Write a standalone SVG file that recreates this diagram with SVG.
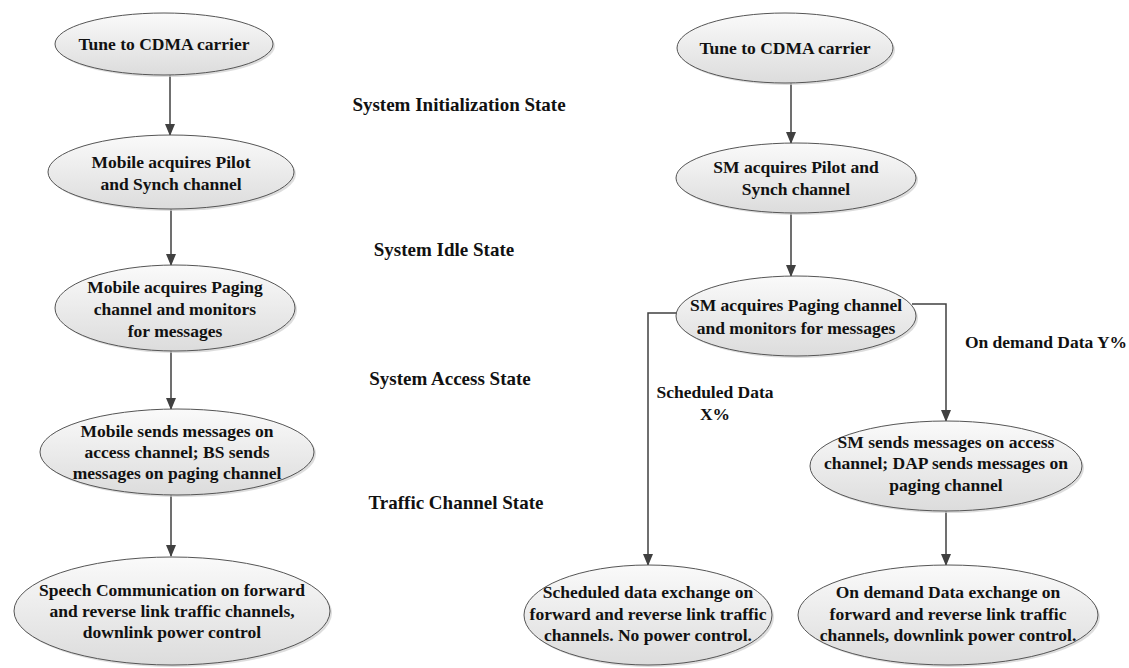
<svg xmlns="http://www.w3.org/2000/svg" width="1129" height="668" viewBox="0 0 1129 668">
  <defs>
    <linearGradient id="fillGrad" x1="0" y1="0" x2="0" y2="1">
      <stop offset="0" stop-color="#fafafa"/>
      <stop offset="1" stop-color="#dcdcdc"/>
    </linearGradient>
    <marker id="arrow" markerWidth="12" markerHeight="10" refX="11" refY="5" orient="auto" markerUnits="userSpaceOnUse">
      <path d="M0,0 L12,5 L0,10 Z" fill="#404040"/>
    </marker>
  </defs>
  <style>
    .shadow { fill: #cfcfcf; opacity: 0.7; }
    .node { fill: url(#fillGrad); stroke: #555555; stroke-width: 1; }
    .txt { font-family: "Liberation Serif", "Times New Roman", serif; font-weight: bold; font-size: 17.5px; fill: #111111; text-anchor: middle; }
    .state { font-family: "Liberation Serif", "Times New Roman", serif; font-weight: bold; font-size: 19px; fill: #111111; text-anchor: middle; }
    .conn { fill: none; stroke: #404040; stroke-width: 1.5; marker-end: url(#arrow); }
  </style>

  <rect width="1129" height="668" fill="#ffffff"/>

  <!-- connectors -->
  <g id="connectors">
    <path class="conn" d="M170,75 L170,135"/>
    <path class="conn" d="M171,209 L171,265"/>
    <path class="conn" d="M171,351 L171,409"/>
    <path class="conn" d="M171,495 L171,556"/>
    <path class="conn" d="M791,83 L791,143"/>
    <path class="conn" d="M791,213 L791,276"/>
    <path class="conn" d="M677,313 L648,313 L648,565"/>
    <path class="conn" d="M912,304 L946,304 L946,421"/>
    <path class="conn" d="M946,511 L946,565"/>
  </g>

  <!-- left column: voice call states -->
  <g id="l1">
    <ellipse class="shadow" cx="166" cy="46" rx="109" ry="31"/>
    <ellipse class="node" cx="164" cy="44" rx="109" ry="31"/>
    <text class="txt" x="164" y="50">Tune to CDMA carrier</text>
  </g>
  <g id="l2">
    <ellipse class="shadow" cx="173" cy="174" rx="123" ry="37"/>
    <ellipse class="node" cx="171" cy="172" rx="123" ry="37"/>
    <text class="txt" x="171" y="168">Mobile acquires Pilot</text>
    <text class="txt" x="171" y="190">and Synch channel</text>
  </g>
  <g id="l3">
    <ellipse class="shadow" cx="177" cy="310" rx="120" ry="43"/>
    <ellipse class="node" cx="175" cy="308" rx="120" ry="43"/>
    <text class="txt" x="175" y="293">Mobile acquires Paging</text>
    <text class="txt" x="175" y="315">channel and monitors</text>
    <text class="txt" x="175" y="337">for messages</text>
  </g>
  <g id="l4">
    <ellipse class="shadow" cx="179" cy="454" rx="137" ry="43"/>
    <ellipse class="node" cx="177" cy="452" rx="137" ry="43"/>
    <text class="txt" x="177" y="437">Mobile sends messages on</text>
    <text class="txt" x="177" y="458">access channel; BS sends</text>
    <text class="txt" x="177" y="479">messages on paging channel</text>
  </g>
  <g id="l5">
    <ellipse class="shadow" cx="174" cy="613" rx="158" ry="54"/>
    <ellipse class="node" cx="172" cy="611" rx="158" ry="54"/>
    <text class="txt" x="172" y="596">Speech Communication on forward</text>
    <text class="txt" x="172" y="617">and reverse link traffic channels,</text>
    <text class="txt" x="172" y="638">downlink power control</text>
  </g>

  <!-- state labels -->
  <g id="states">
    <text class="state" x="459" y="111">System Initialization State</text>
    <text class="state" x="444" y="256">System Idle State</text>
    <text class="state" x="450" y="385">System Access State</text>
    <text class="state" x="456" y="509">Traffic Channel State</text>
  </g>

  <!-- right column: data service states -->
  <g id="r1">
    <ellipse class="shadow" cx="787" cy="50" rx="108" ry="35"/>
    <ellipse class="node" cx="785" cy="48" rx="108" ry="35"/>
    <text class="txt" x="785" y="54">Tune to CDMA carrier</text>
  </g>
  <g id="r2">
    <ellipse class="shadow" cx="798" cy="180" rx="120" ry="35"/>
    <ellipse class="node" cx="796" cy="178" rx="120" ry="35"/>
    <text class="txt" x="796" y="173">SM acquires Pilot and</text>
    <text class="txt" x="796" y="195">Synch channel</text>
  </g>
  <g id="r3">
    <ellipse class="shadow" cx="798" cy="318" rx="120" ry="40"/>
    <ellipse class="node" cx="796" cy="316" rx="120" ry="40"/>
    <text class="txt" x="796" y="311">SM acquires Paging channel</text>
    <text class="txt" x="796" y="334">and monitors for messages</text>
  </g>
  <g id="branch-labels">
    <text class="txt" x="715" y="398">Scheduled Data</text>
    <text class="txt" x="715" y="420">X%</text>
    <text class="txt" x="1046" y="348">On demand Data Y%</text>
  </g>
  <g id="r4">
    <ellipse class="shadow" cx="948" cy="468" rx="136" ry="45"/>
    <ellipse class="node" cx="946" cy="466" rx="136" ry="45"/>
    <text class="txt" x="946" y="448">SM sends messages on access</text>
    <text class="txt" x="946" y="469">channel; DAP sends  messages on</text>
    <text class="txt" x="946" y="491">paging channel</text>
  </g>
  <g id="r5a">
    <ellipse class="shadow" cx="650" cy="617" rx="124" ry="50"/>
    <ellipse class="node" cx="648" cy="615" rx="124" ry="50"/>
    <text class="txt" x="648" y="598">Scheduled data exchange on</text>
    <text class="txt" x="648" y="620">forward and reverse link traffic</text>
    <text class="txt" x="648" y="641">channels. No power control.</text>
  </g>
  <g id="r5b">
    <ellipse class="shadow" cx="950" cy="617" rx="150" ry="50"/>
    <ellipse class="node" cx="948" cy="615" rx="150" ry="50"/>
    <text class="txt" x="948" y="598">On demand Data exchange on</text>
    <text class="txt" x="948" y="620">forward and reverse link traffic</text>
    <text class="txt" x="948" y="641">channels, downlink power control.</text>
  </g>
</svg>
